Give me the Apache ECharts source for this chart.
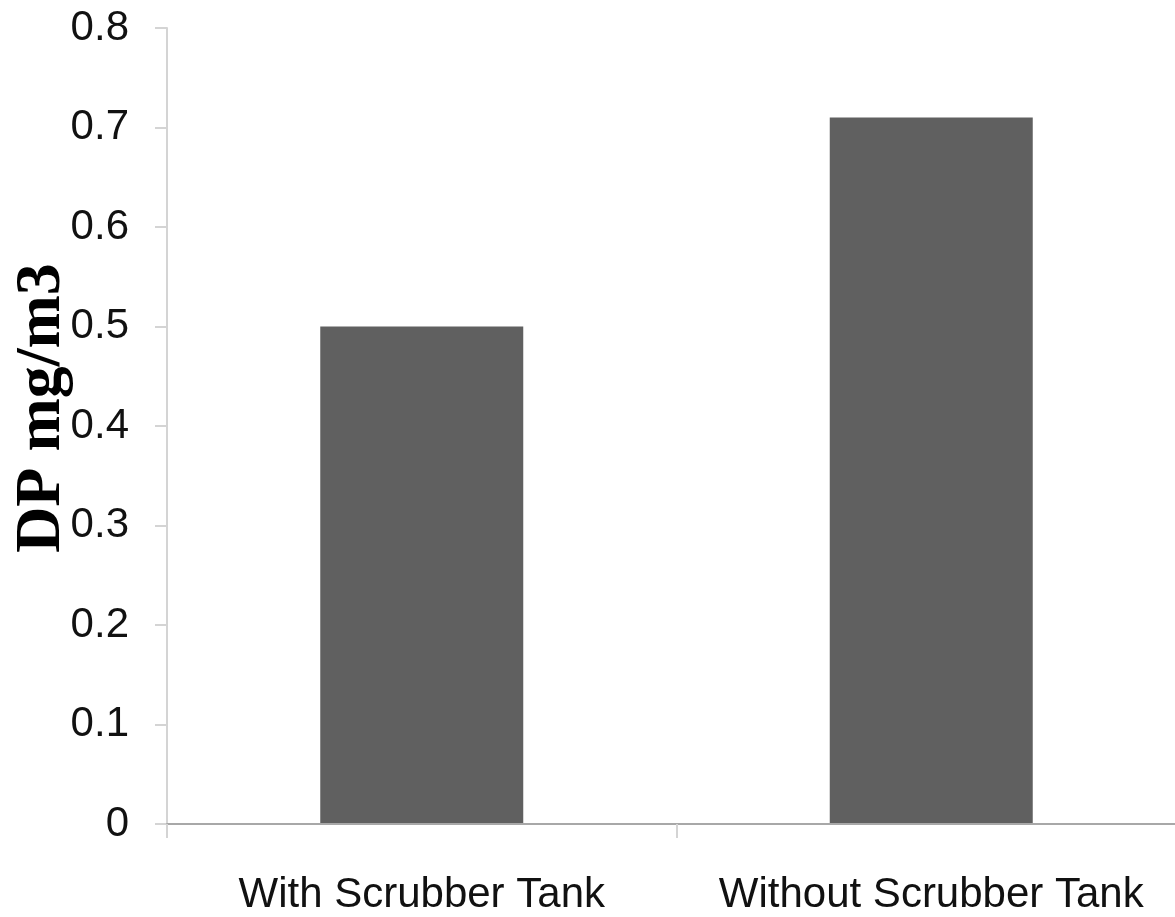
<!DOCTYPE html>
<html>
<head>
<meta charset="utf-8">
<script src="https://cdn.jsdelivr.net/npm/echarts@6/dist/echarts.min.js"></script>
<style>
html,body{margin:0;padding:0;background:#fff;}
#chart{width:1175px;height:917px;}
</style>
</head>
<body>
<div id="chart"></div>
<script>
const categories = ["With Scrubber Tank", "Without Scrubber Tank"];
const dpValues = [0.5, 0.71];
const yAxisName = "DP mg/m3";

const chart = echarts.init(document.getElementById('chart'), null, {renderer: 'canvas'});
chart.setOption({
  animation: false,
  backgroundColor: '#ffffff',
  grid: {left: 167, top: 28, bottom: 93, right: -11, containLabel: false, outerBoundsMode: 'none'},
  xAxis: {
    type: 'category',
    data: categories,
    boundaryGap: true,
    axisLine: {show: true, lineStyle: {color: '#a8a8a8', width: 2}},
    axisTick: {show: true, length: 14, lineStyle: {color: '#d4d4d4', width: 2}},
    axisLabel: {interval: 0, hideOverlap: false, color: '#111', fontFamily: 'Liberation Sans, Arial', fontSize: 42, margin: 50},
    z: 3
  },
  yAxis: {
    type: 'value',
    min: 0, max: 0.8, interval: 0.1,
    name: yAxisName,
    nameLocation: 'middle',
    nameRotate: 90,
    nameGap: 93,
    nameMoveOverlap: false,
    nameTextStyle: {fontFamily: 'Liberation Serif, Times New Roman', fontWeight: 'bold', fontSize: 64, color: '#000', padding: [0, 0, 0, 36]},
    axisLine: {show: true, lineStyle: {color: '#d4d4d4', width: 2}},
    axisTick: {show: true, length: 12, lineStyle: {color: '#d4d4d4', width: 2}},
    splitLine: {show: false},
    axisLabel: {color: '#111', fontFamily: 'Liberation Sans, Arial', fontSize: 42, margin: 38,
      formatter: v => (Math.round(v*10)/10).toString()}
  },
  series: [{
    type: 'bar',
    data: dpValues,
    barWidth: 203,
    itemStyle: {color: '#606060'}
  }]
});
</script>
</body>
</html>
